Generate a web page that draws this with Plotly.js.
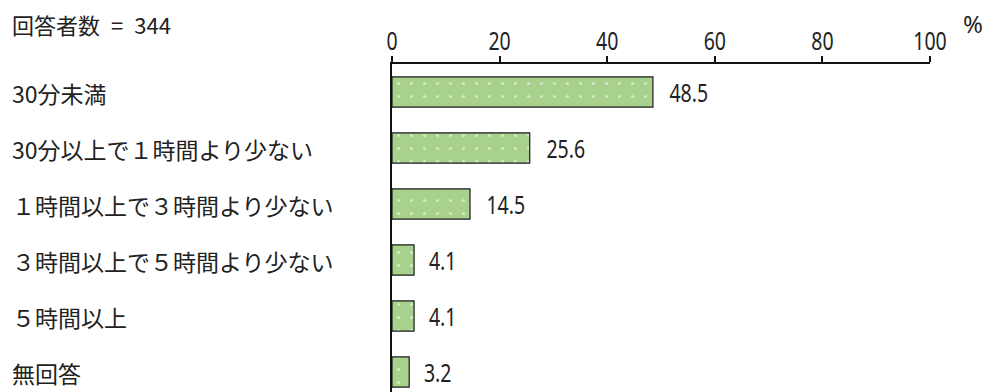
<!DOCTYPE html>
<html>
<head>
<meta charset="utf-8">
<script src="https://cdn.plot.ly/plotly-3.0.1.min.js"></script>
<style>
  html, body { margin: 0; padding: 0; background: #fff; }
  #chart { width: 987px; height: 392px; }
</style>
</head>
<body>
<div id="chart"></div>
<script>
// Survey: time spent, share of respondents (%)
const categories = [
  '30分未満',
  '30分以上で１時間より少ない',
  '１時間以上で３時間より少ない',
  '３時間以上で５時間より少ない',
  '５時間以上',
  '無回答'
];
const percents = [48.5, 25.6, 14.5, 4.1, 4.1, 3.2];
const respondentNote = '回答者数\u2002=\u2002344';
const unitLabel = '%';
const tickValues = [0, 20, 40, 60, 80, 100];

const jpFont = '"Noto Sans CJK JP", "Noto Sans", sans-serif';
const numFont = '"Noto Sans", sans-serif';

const W = 987, H = 392;
const mLeft = 392, mRight = 57, mTop = 64, mBottom = 0;
const plotW = W - mLeft - mRight;
const plotH = H - mTop - mBottom;
const rowPx = 56;
const yBottom = -0.5 + plotH / rowPx;

const trace = {
  type: 'bar',
  orientation: 'h',
  x: percents,
  y: categories,
  width: 0.54,
  marker: {
    color: '#a9d18e',
    line: { color: '#1a1a1a', width: 1.2 },
    pattern: { shape: '.', fgcolor: '#ffffff', bgcolor: '#a9d18e', size: 13, solidity: 0.045, fillmode: 'overlay' }
  },
  hoverinfo: 'skip'
};

const annotations = [];
// category labels, left aligned at the page edge
categories.forEach(function (c) {
  annotations.push({
    text: c, xref: 'paper', yref: 'y',
    x: (10 - mLeft) / plotW, y: c, yshift: -1,
    xanchor: 'left', yanchor: 'middle', showarrow: false,
    font: { family: jpFont, size: 23, color: '#222' }
  });
});
// value labels at the end of each bar
percents.forEach(function (v, i) {
  annotations.push({
    text: v.toFixed(1), xref: 'x', yref: 'y',
    x: v, y: categories[i],
    xanchor: 'left', yanchor: 'middle', xshift: 9, showarrow: false,
    font: { family: numFont, size: 25, color: '#222' }
  });
});
annotations.push({
  text: respondentNote, xref: 'paper', yref: 'paper',
  x: (10 - mLeft) / plotW, y: 1 + (mTop - 24) / plotH,
  xanchor: 'left', yanchor: 'middle', showarrow: false,
  font: { family: jpFont, size: 22, color: '#222' }
});
annotations.push({
  text: unitLabel, xref: 'paper', yref: 'paper',
  x: (973 - mLeft) / plotW, y: 1 + (mTop - 24) / plotH,
  xanchor: 'center', yanchor: 'middle', showarrow: false,
  font: { family: numFont, size: 24, color: '#222' }
});

const layout = {
  width: W, height: H,
  margin: { l: mLeft, r: mRight, t: mTop, b: mBottom, pad: 0 },
  paper_bgcolor: '#ffffff', plot_bgcolor: '#ffffff',
  showlegend: false,
  bargap: 0,
  xaxis: {
    side: 'top', range: [0, 100], tickvals: tickValues,
    ticktext: tickValues.map(String),
    showgrid: false, zeroline: false,
    showline: true, linecolor: '#111', linewidth: 2,
    ticks: 'outside', ticklen: 6, tickwidth: 2, tickcolor: '#111',
    ticklabelstandoff: -4,
    tickfont: { family: numFont, size: 25, color: '#222' },
    fixedrange: true
  },
  yaxis: {
    range: [yBottom, -0.5],
    showticklabels: false, showgrid: false, zeroline: false,
    showline: true, linecolor: '#111', linewidth: 2, ticks: '',
    fixedrange: true
  },
  annotations: annotations
};

// numbers are set in a condensed face: squeeze the glyphs horizontally
function condenseNumbers(gd) {
  const texts = gd.querySelectorAll('.xtick text, .annotation-text');
  texts.forEach(function (t) {
    if (/^[0-9.]+$/.test(t.textContent)) {
      const len = t.getComputedTextLength();
      t.setAttribute('textLength', (len * 0.78).toFixed(2));
      t.setAttribute('lengthAdjust', 'spacingAndGlyphs');
    }
  });
}

Plotly.newPlot('chart', [trace], layout, { staticPlot: true }).then(condenseNumbers);
</script>
</body>
</html>
